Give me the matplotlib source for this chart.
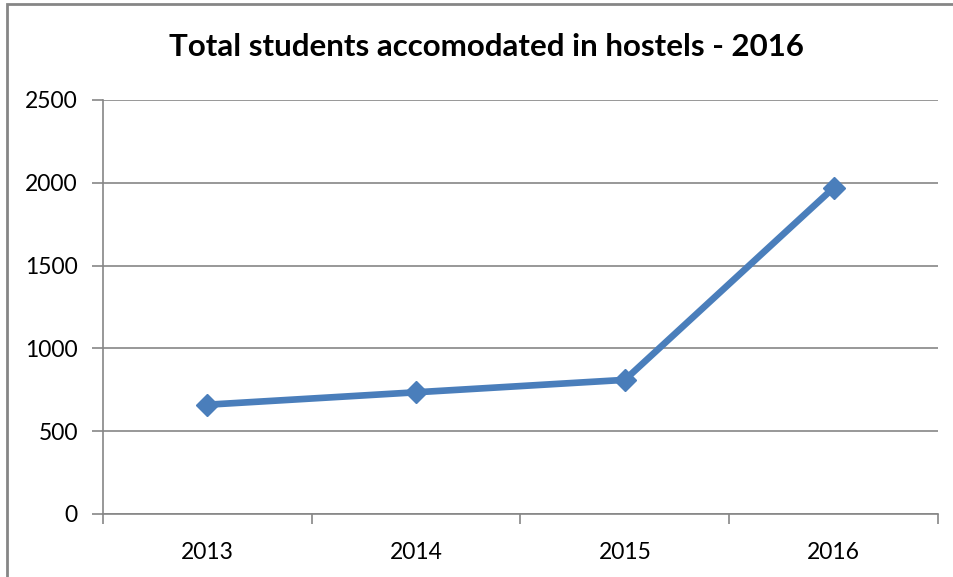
import matplotlib.pyplot as plt
from matplotlib.patches import Rectangle

# Số sinh viên ở ký túc xá theo năm
years = ['2013', '2014', '2015', '2016']
students = [660, 735, 810, 1970]

plt.rcParams['font.family'] = ['Lato', 'DejaVu Sans']

fig = plt.figure(figsize=(9.54, 5.77), dpi=100)
ax = fig.add_axes([103 / 954, 1 - 514 / 577, (938 - 103) / 954, (514 - 100) / 577])

# Khung viền ngoài của biểu đồ
fig.patches.append(Rectangle((7 / 954, -0.1), 1.2, (1 - 4 / 577) + 0.1,
                             transform=fig.transFigure, fill=False,
                             edgecolor='#868686', linewidth=2, zorder=0))

x = [i + 0.5 for i in range(len(years))]
ax.plot(x, students, color='#4a7ebb', linewidth=4.8, marker='D',
        markersize=11, markeredgecolor='#4a7ebb', solid_capstyle='round', zorder=3)

ax.set_xlim(0, len(years))
ax.set_ylim(0, 2500)
ax.set_yticks(range(0, 2501, 500))
ax.set_xticks(x)
ax.set_xticklabels(years)
ax.set_xticks(range(len(years) + 1), minor=True)

ax.grid(axis='y', color='#868686', linewidth=1.2)
ax.set_axisbelow(True)
for side in ['top', 'right']:
    ax.spines[side].set_visible(False)
ax.spines['left'].set_color('#868686')
ax.spines['bottom'].set_color('#868686')
ax.spines['left'].set_linewidth(1.2)
ax.spines['bottom'].set_linewidth(1.2)

ax.tick_params(axis='x', which='major', length=0, labelsize=16.5, pad=20)
ax.tick_params(axis='x', which='minor', length=7, width=1.2, color='#868686', direction='out')
ax.tick_params(axis='y', length=8, width=1.2, color='#868686', labelsize=16.5, pad=10)

fig.text(486 / 954, 1 - 47 / 577, 'Total students accomodated in hostels - 2016',
         ha='center', va='center', fontsize=22.5, fontweight='bold')

plt.savefig('out.png', dpi=100)
